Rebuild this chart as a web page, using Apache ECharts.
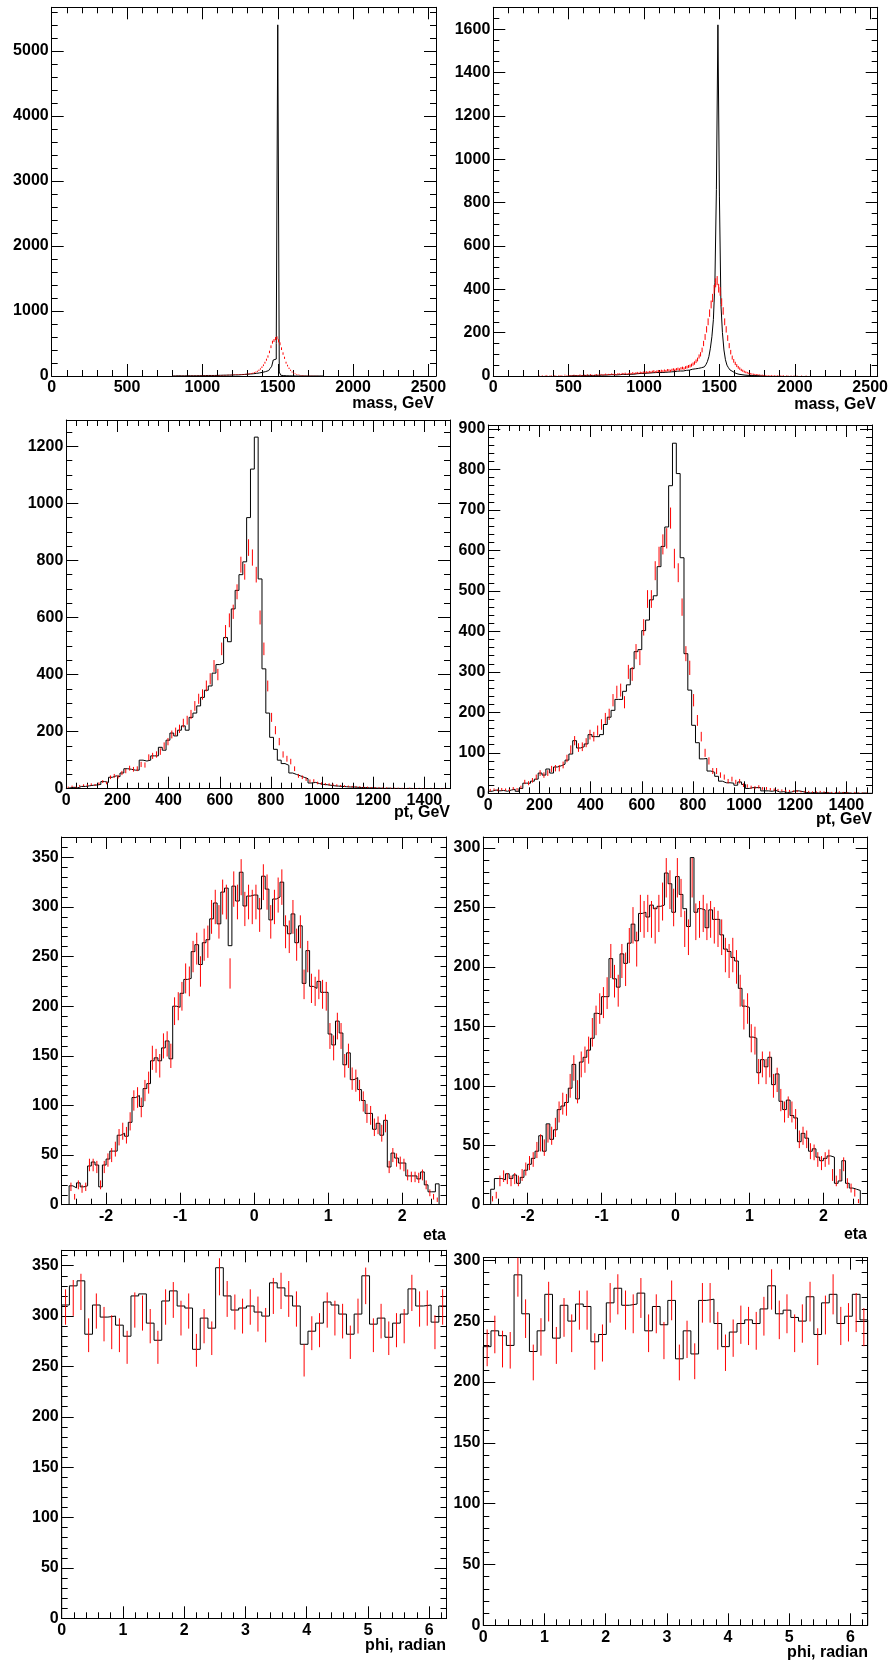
<!DOCTYPE html>
<html><head><meta charset="utf-8">
<script src="https://cdn.jsdelivr.net/npm/echarts@6/dist/echarts.min.js"></script>
<style>html,body{margin:0;padding:0;background:#fff}#c{width:889px;height:1666px}</style>
</head><body><div id="c"></div><script>
// ---------------- DATA ----------------
const massBinWidth = 10;
const massLeftStart = 800;
const massLeftBlack = [2,1,2,3,2,2,3,2,3,3, 3,4,3,4,5,4,5,5,6,5, 6,7,6,8,7,8,9,8,10,9, 10,11,10,12,11,13,12,14,13,15,
  16,17,18,17,20,21,22,24,25,27, 29,31,33,35,38,41,44,48,52,57, 62,68,75,84,95,118,150,246,260,500, 5400,60,12,6,4,3,2,2,1,1,
  1,0,1,0,0,1,0,0,0,0, 0,0,0,0,0,0,0,0,0,0];
const massLeftRed = [1,2,1,3,2,2,3,2,4,3, 3,4,4,5,3,5,6,4,6,5, 6,7,8,6,8,9,7,10,9,11, 10,12,11,13,14,12,15,16,14,17,
  18,20,19,22,21,24,26,25,28,30, 31,35,38,44,52,60,72,88,108,135, 165,205,250,300,370,450,520,545,575,585, 540,495,420,345,280,205,160,118,88,61,
  45,34,25,19,15,11,8,6,5,4, 3,3,2,2,1,1,1,0,1,0];
const massRightBlackStart = 500;
const massRightBlack = [0,1,0,2,1,1,2,1,2,2, 2,3,2,3,3,2,4,3,4,3, 4,4,5,4,5,5,4,6,5,6, 6,5,7,6,7,8,6,7,8,8,
  9,8,10,9,10,11,10,12,11,12, 12,13,12,14,13,15,14,16,15,16, 17,16,18,17,19,18,20,19,21,20, 21,22,21,23,24,23,25,26,25,27,
  30,31,32,33,34,35,36,38,40,42, 45,52,66,89,128,181,260,430,860,1620, 830,330,200,120,75,50,38,28,20,15, 12,10,8,7,6,5,4,4,3,3,
  2,2,2,1,2,1,1,1,0,1];
const massRightRedStart = 300;
const massRightRed = [1,0,2,0,1,3,0,1,2,0, 2,1,0,3,1,2,0,4,1,2, 2,3,1,4,2,3,2,5,3,2, 4,3,5,2,6,4,3,5,6,4,
  5,7,4,6,8,5,7,6,9,7, 8,6,9,10,7,11,9,12,8,10, 12,10,14,11,13,15,12,16,14,17, 15,18,16,19,17,20,22,18,21,23,
  20,24,22,25,23,27,26,24,28,30, 28,31,33,30,35,37,34,39,41,44, 46,50,55,60,68,76,90,100,120,150, 180,215,250,290,330,360,400,430,440,405,
  390,340,300,250,215,175,140,110,85,70, 58,48,40,34,28,24,20,17,15,12, 10,9,8,7,6,6,5,4,4,3, 3,3,2,2,3,1,2,1,2,1,
  1,1,2,0,1,1,0,1,0,1, 0,1,0,0,1,0,0,1,0,0];

const ptBinWidth = 15;
const ptStart = 0;
const ptLeftBlack = [3,5,3,8,8,10,12,13,15,25, 22,40,45,42,55,70,68,65,65,100, 97,100,115,115,145,135,170,195,185,205,
  220,205,250,265,290,320,345,360,405,435, 440,530,515,630,695,750,795,950,1120,1232, 735,420,265,180,138,100,88,82,55,50,
  45,40,35,20,22,18,15,14,12,10, 9,8,7,6,6,5,4,4,3,3, 2,2,1,2,1,1,1,0,1,1, 0,1,0,0,1,0,0,0,1,0];
const ptLeftRed = [5,8,5,10,12,12,15,13,18,25, 20,40,45,42,55,62,72,68,70,85, 83,110,115,120,130,150,165,190,200,210,
  230,240,260,290,315,330,360,385,430,400, 490,550,590,620,690,785,760,845,810,750, 600,490,360,250,205,165,120,105,95,70,
  45,40,33,27,28,20,18,16,15,14, 12,10,9,8,7,7,6,5,5,4, 4,3,3,3,2,2,2,2,1,2, 1,1,1,1,0,1,0,1,1,0];
const ptRightBlack = [5,8,6,7,5,8,10,5,12,25, 25,30,35,50,45,60,50,65,68,72, 82,97,130,112,115,122,145,140,140,145,
  170,188,205,232,232,252,268,308,350,355, 402,428,478,488,560,610,658,760,865,790, 582,345,255,168,125,85,86,55,52,42,
  30,26,26,25,20,28,22,12,14,14, 14,6,6,5,7,3,4,2,3,6, 6,4,2,1,2,1,1,2,1,0, 1,1,2,1,0,1,0,1,0,0];
const ptRightRed = [8,9,8,10,9,8,12,10,15,28, 25,32,40,50,45,50,60,62,62,70, 86,108,130,113,115,125,145,140,155,170,
  185,195,230,250,255,225,300,295,350,335, 410,480,480,550,585,615,630,680,580,545, 460,345,310,230,180,140,100,80,55,55,
  45,40,30,35,28,30,20,18,15,14, 16,12,12,10,9,8,7,6,6,5, 5,4,4,4,3,3,4,3,2,2, 2,3,2,2,1,2,1,1,1,0];

const etaBinWidth = 0.05;
const etaStart = -2.5;
const etaLeftBlack = [19,17,22,18,19,39,43,40,18,40, 46,54,54,70,72,69,83,108,110,99, 117,122,145,148,145,158,165,147,200,199,
  213,227,228,255,262,242,264,267,288,304, 283,315,319,261,321,306,335,301,311,312, 312,298,331,318,287,308,310,325,281,273,
  293,264,281,223,256,220,218,225,214,214, 172,161,185,173,141,153,126,128,116,105, 92,92,76,82,70,85,38,52,47,42,
  42,29,29,29,26,33,20,13,13,21];
const etaLeftRed = [18,8,20,16,18,40,40,38,20,38, 45,50,56,68,74,70,84,105,108,98, 115,123,148,145,140,160,162,150,195,200,
  210,228,225,250,258,235,262,265,290,300, 285,310,305,233,318,305,330,298,305,300, 305,292,325,315,285,300,312,320,275,270,
  290,262,275,222,250,218,215,222,212,210, 170,158,180,170,140,150,127,125,115,104, 92,90,78,80,72,82,38,50,45,42,
  40,30,28,28,27,30,20,12,8,5];
const etaRightBlack = [13,22,22,21,26,22,25,18,23,29, 34,39,45,58,45,68,55,63,80,83, 86,98,118,89,120,124,130,140,161,160,
  175,175,207,190,183,211,203,220,236,222, 245,246,242,252,249,251,252,279,270,246, 276,261,249,234,292,246,249,248,233,248,
  240,240,227,215,213,208,205,182,167,166, 141,140,111,122,116,124,101,110,87,80, 88,75,73,53,60,56,45,47,40,37,
  39,41,40,18,20,37,18,14,13,12];
const etaRightRed = [5,8,20,24,22,20,22,20,25,30, 35,38,46,52,48,60,58,65,78,85, 84,100,115,95,118,122,130,145,155,165,
  170,178,205,188,180,205,198,218,235,215, 245,240,245,240,235,245,255,275,265,250, 275,258,232,225,275,238,240,245,238,240,
  235,232,225,210,205,210,200,180,160,165, 140,138,112,118,112,118,100,105,88,78, 82,78,72,55,58,55,45,44,38,35,
  38,40,25,20,25,34,18,14,10,3];

const phiBinCount = 50;
const phiStart = 0;
const phiLeftBlack = [311,330,335,282,311,299,300,291,280,320, 322,293,276,315,325,310,308,267,298,288,
  348,320,306,308,310,304,300,333,328,320, 310,272,285,293,314,311,302,282,302,340, 292,298,279,293,302,327,310,311,294,310];
const phiLeftRed = [309,318,324,281,305,292,284,281,269,306, 303,290,269,309,316,298,305,266,290,278,
  339,317,304,300,309,302,291,320,325,317, 307,256,283,286,306,298,295,274,300,330, 281,295,278,286,290,323,307,308,284,309];
const phiRightBlack = [229,242,238,230,288,256,225,242,272,236, 263,250,264,262,233,239,265,277,263,264,
  273,242,262,247,267,219,242,223,267,268, 248,229,241,248,251,248,260,279,256,259, 253,250,270,239,265,272,248,254,272,251];
const phiRightRed = [228,239,227,226,287,252,216,237,266,230, 253,240,259,259,225,232,265,272,259,256,
  269,240,256,234,267,216,235,217,265,265, 242,224,236,247,246,242,254,276,251,256, 240,248,266,229,255,272,246,249,257,245];

// tick labels
const massXTicks = [0,500,1000,1500,2000,2500];
const massLeftYTicks = [0,1000,2000,3000,4000,5000];
const massRightYTicks = [0,200,400,600,800,1000,1200,1400,1600];
const ptXTicks = [0,200,400,600,800,1000,1200,1400];
const ptLeftYTicks = [0,200,400,600,800,1000,1200];
const ptRightYTicks = [0,100,200,300,400,500,600,700,800,900];
const etaXTicks = [-2,-1,0,1,2];
const etaLeftYTicks = [0,50,100,150,200,250,300,350];
const etaRightYTicks = [0,50,100,150,200,250,300];
const phiXTicks = [0,1,2,3,4,5,6];
const phiLeftYTicks = [0,50,100,150,200,250,300,350];
const phiRightYTicks = [0,50,100,150,200,250,300];

const axisTitles = ['mass, GeV','mass, GeV','pt, GeV','pt, GeV','eta','eta','phi, radian','phi, radian'];

// ---------------- LAYOUT / STYLE ----------------
const FONT = '"Liberation Sans", Arial, Helvetica, sans-serif';
const TWO_PI = Math.PI * 2;
function minorTicks(min, max, step) {
  const out = [];
  for (let k = Math.ceil(min / step - 1e-9); k * step <= max + 1e-9; k++) out.push(Math.round(k * step * 1e6) / 1e6);
  return out;
}
const panels = [
  {grid:[51.7,7.3,384.3,368.7], x:[0,2550,massXTicks,100], y:[0,5670,massLeftYTicks,200],
   black:[massLeftStart,massBinWidth,massLeftBlack], red:[massLeftStart,massBinWidth,massLeftRed], title:[455,396]},
  {grid:[493.3,7.3,384.4,368.7], x:[0,2550,massXTicks,100], y:[0,1701,massRightYTicks,50],
   black:[massRightBlackStart,massBinWidth,massRightBlack], red:[massRightRedStart,massBinWidth,massRightRed], title:[13,397]},
  {grid:[66.3,420,383.7,368.7], x:[0,1500,ptXTicks,40], y:[0,1292,ptLeftYTicks,50],
   black:[ptStart,ptBinWidth,ptLeftBlack], red:[ptStart,ptBinWidth,ptLeftRed], title:[439,805]},
  {grid:[488.3,425,383.7,368.3], x:[0,1500,ptXTicks,40], y:[0,910,ptRightYTicks,20],
   black:[ptStart,ptBinWidth,ptRightBlack], red:[ptStart,ptBinWidth,ptRightRed], title:[17,812]},
  {grid:[61.7,837,384.8,367.7], x:[-2.6,2.6,etaXTicks,0.2], y:[0,370.5,etaLeftYTicks,10],
   black:[etaStart,etaBinWidth,etaLeftBlack], red:[etaStart,etaBinWidth,etaLeftRed], title:[443,1228]},
  {grid:[483.3,837,384.4,367.7], x:[-2.6,2.6,etaXTicks,0.2], y:[0,309.3,etaRightYTicks,10],
   black:[etaStart,etaBinWidth,etaRightBlack], red:[etaStart,etaBinWidth,etaRightRed], title:[22,1227]},
  {grid:[61.7,1250.3,384.8,368], x:[0,TWO_PI,phiXTicks,0.2], y:[0,365.3,phiLeftYTicks,10],
   black:[phiStart,TWO_PI/phiBinCount,phiLeftBlack], red:[phiStart,TWO_PI/phiBinCount,phiLeftRed], title:[443,1638]},
  {grid:[483.3,1257.7,384.4,367.6], x:[0,TWO_PI,phiXTicks,0.2], y:[0,302.1,phiRightYTicks,10],
   black:[phiStart,TWO_PI/phiBinCount,phiRightBlack], red:[phiStart,TWO_PI/phiBinCount,phiRightRed], title:[21,1645]}
];

const labelStyle = {fontFamily: FONT, fontSize: 16, fontWeight: 'bold', color: '#000'};
function makeAxes(dim, gi, spec) {
  const [min, max, major, minorStep] = spec;
  const minor = minorTicks(min, max, minorStep);
  const sides = dim === 'x' ? ['bottom','top'] : ['left','right'];
  const base = {type:'value', gridIndex:gi, min:min, max:max, scale:true, splitLine:{show:false}, minorTick:{show:false}};
  const out = [];
  sides.forEach((pos, si) => {
    out.push(Object.assign({}, base, {position:pos,
      axisLine:{show:true, onZero:false, lineStyle:{color:'#000', width:1}},
      axisTick:{show:true, inside:true, length:12, customValues:major, lineStyle:{color:'#000', width:1}},
      axisLabel: si === 0 ? Object.assign({show:true, customValues:major, margin: dim==='x'?4:3,
          formatter: v => String(v)}, labelStyle) : {show:false}
    }));
    out.push(Object.assign({}, base, {position:pos,
      axisLine:{show:false, onZero:false},
      axisTick:{show:true, inside:true, length:6, customValues:minor, lineStyle:{color:'#000', width:1}},
      axisLabel:{show:false}
    }));
  });
  return out;
}

function histPoints(lo, w, vals) {
  const pts = [[lo, 0]];
  vals.forEach((v, i) => pts.push([lo + i * w, v]));
  pts.push([lo + vals.length * w, vals[vals.length - 1]]);
  pts.push([lo + vals.length * w, 0]);
  return pts;
}
function errPoints(lo, w, vals) {
  return vals.map((v, i) => [lo + (i + 0.5) * w, v - Math.sqrt(v), v + Math.sqrt(v), v]);
}

const grid = [], xAxis = [], yAxis = [], series = [], title = [];
panels.forEach((p, i) => {
  grid.push({left:p.grid[0], top:p.grid[1], width:p.grid[2], height:p.grid[3], containLabel:false, outerBoundsMode:'none', show:false});
  makeAxes('x', i, p.x).forEach(a => xAxis.push(a));
  makeAxes('y', i, p.y).forEach(a => yAxis.push(a));
  series.push({type:'line', xAxisIndex:4*i, yAxisIndex:4*i, step:'end', symbol:'none', showSymbol:false, silent:true,
    clip:true, lineStyle:{color:'#000', width:1}, data: histPoints(p.black[0], p.black[1], p.black[2]), z:2});
  series.push({type:'custom', xAxisIndex:4*i, yAxisIndex:4*i, silent:true, clip:true, z:3,
    data: errPoints(p.red[0], p.red[1], p.red[2]),
    encode:{x:0, y:[1,2]},
    renderItem: (params, api) => {
      if (api.value(3) <= 0) return null;
      const a = api.coord([api.value(0), api.value(1)]);
      const b = api.coord([api.value(0), api.value(2)]);
      return {type:'line', shape:{x1:a[0], y1:a[1], x2:b[0], y2:b[1]}, style:{stroke:'#ff0000', lineWidth:1}};
    }});
  title.push({text: axisTitles[i], right: p.title[0], top: p.title[1], padding:0, itemGap:0,
    textStyle: Object.assign({}, labelStyle)});
});

const chart = echarts.init(document.getElementById('c'), null, {renderer:'canvas', width:889, height:1666});
chart.setOption({animation:false, backgroundColor:'#fff', title, grid, xAxis, yAxis, series});
</script></body></html>
